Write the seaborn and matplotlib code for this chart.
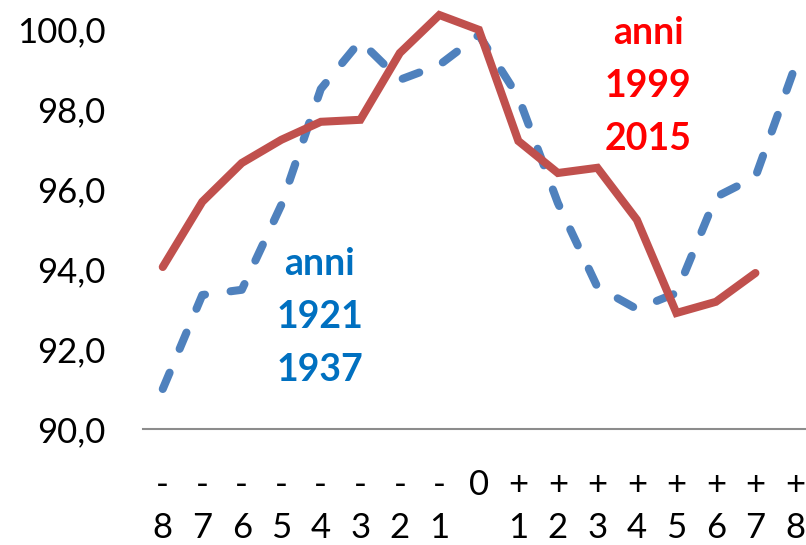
import numpy as np
import pandas as pd
import matplotlib
matplotlib.use("Agg")
import matplotlib.pyplot as plt
import seaborn as sns

categories = ["-8", "-7", "-6", "-5", "-4", "-3", "-2", "-1", "0",
              "+1", "+2", "+3", "+4", "+5", "+6", "+7", "+8"]
tick_labels = ["-\n8", "-\n7", "-\n6", "-\n5", "-\n4", "-\n3", "-\n2", "-\n1", "0\n ",
               "+\n1", "+\n2", "+\n3", "+\n4", "+\n5", "+\n6", "+\n7", "+\n8"]
blue_1921_1937 = [91.0, 93.35, 93.48, 95.6, 98.5, 99.7, 98.73, 99.1, 99.85,
                  98.3, 95.65, 93.55, 93.0, 93.4, 95.8, 96.3, 99.05]
red_1999_2015 = [94.05, 95.68, 96.65, 97.23, 97.68, 97.73, 99.4, 100.35, 99.98,
                 97.2, 96.4, 96.53, 95.23, 92.9, 93.18, 93.9]
y_ticks = [90, 92, 94, 96, 98, 100]
y_tick_labels = ["90,0", "92,0", "94,0", "96,0", "98,0", "100,0"]

sns.set_style("white")
plt.rcParams["font.family"] = ["Lato", "DejaVu Sans"]

fig = plt.figure(figsize=(8.06, 5.45), dpi=100)
ax = fig.add_axes([143 / 806, 116 / 545, 1 - 143 / 806, 428 / 545])

pos_blue = np.arange(len(blue_1921_1937))
pos_red = np.arange(len(red_1999_2015))

sns.lineplot(x=pos_blue, y=blue_1921_1937, ax=ax, color="#4F81BD", linewidth=5.8,
             linestyle=(0, (2.2, 3.2)), dash_capstyle="round", solid_capstyle="round")
sns.lineplot(x=pos_red, y=red_1999_2015, ax=ax, color="#C0504D", linewidth=5.8,
             solid_capstyle="round", solid_joinstyle="miter")

ax.set_xlim(-0.5, 16.28)
ax.set_ylim(90, 100.7)
ax.set_xticks(np.arange(len(categories)))
ax.set_xticklabels(tick_labels, linespacing=1.42)
ax.set_yticks(y_ticks)
ax.set_yticklabels(y_tick_labels)
ax.tick_params(axis="x", length=0, pad=29, labelsize=25, colors="black")
ax.tick_params(axis="y", length=0, pad=27, labelsize=25, colors="black")

for s in ["top", "right", "left"]:
    ax.spines[s].set_visible(False)
ax.spines["bottom"].set_color("#8C8C8C")
ax.spines["bottom"].set_linewidth(1.5)
ax.set_xlabel("")
ax.set_ylabel("")
ax.grid(False)

ax.text(3.97, 92.8, "anni\n1921\n1937", ha="center", va="center", fontsize=27,
        fontweight="bold", color="#0070C0", linespacing=1.68)
ax.text(12.28, 98.57, "anni\n1999\n2015", ha="center", va="center", fontsize=27,
        fontweight="bold", color="#FF0000", linespacing=1.68)

fig.savefig("out.png", dpi=100)
